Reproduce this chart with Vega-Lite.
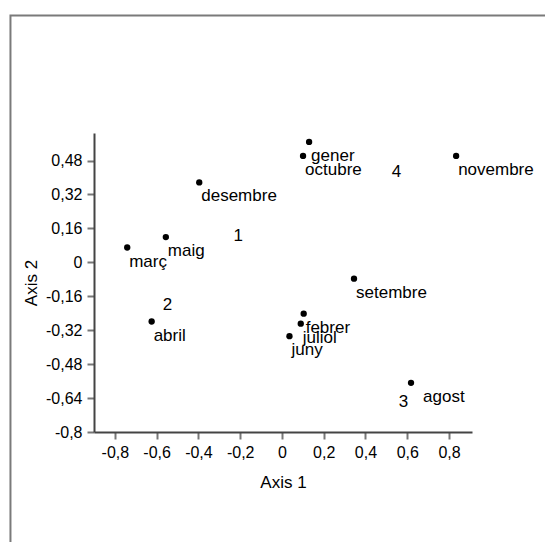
{
  "$schema": "https://vega.github.io/schema/vega-lite/v6.json",
  "description": "Two-dimensional configuration of the months (Axis 1 vs Axis 2) with group numbers.",
  "width": 378,
  "height": 299,
  "autosize": {"type": "none"},
  "padding": {"left": 94, "top": 133, "right": 73, "bottom": 110},
  "background": "white",
  "config": {
    "view": {"stroke": null},
    "font": "Liberation Sans",
    "axis": {
      "grid": false,
      "domainColor": "#444444",
      "domainWidth": 2,
      "tickColor": "#777777",
      "tickWidth": 2,
      "tickSize": 7,
      "labelColor": "black",
      "labelFontSize": 16,
      "labelPadding": 5,
      "labelFlush": false,
      "labelOverlap": false,
      "titleColor": "black",
      "titleFontSize": 17,
      "titleFontWeight": "normal"
    }
  },
  "datasets": {
    "months": [
      {"month": "gener", "x": 0.130, "y": 0.568},
      {"month": "febrer", "x": 0.104, "y": -0.242},
      {"month": "març", "x": -0.741, "y": 0.070},
      {"month": "abril", "x": -0.624, "y": -0.279},
      {"month": "maig", "x": -0.556, "y": 0.119},
      {"month": "juny", "x": 0.036, "y": -0.348},
      {"month": "juliol", "x": 0.090, "y": -0.289},
      {"month": "agost", "x": 0.618, "y": -0.568},
      {"month": "setembre", "x": 0.345, "y": -0.077},
      {"month": "octubre", "x": 0.101, "y": 0.502},
      {"month": "novembre", "x": 0.834, "y": 0.502},
      {"month": "desembre", "x": -0.396, "y": 0.377}
    ],
    "groups": [
      {"group": "1", "x": -0.209, "y": 0.125},
      {"group": "2", "x": -0.548, "y": -0.200},
      {"group": "3", "x": 0.582, "y": -0.658},
      {"group": "4", "x": 0.549, "y": 0.425}
    ]
  },
  "layer": [
    {
      "data": {"values": [{"frame": "border"}]},
      "mark": {"type": "rect", "fill": "transparent", "stroke": "#7a7a7a", "strokeWidth": 2, "clip": false},
      "encoding": {
        "x": {
          "datum": -1.3, "type": "quantitative",
          "scale": {"domain": [-0.9, 0.91], "nice": false, "zero": false},
          "axis": {
            "title": "Axis 1",
            "values": [-0.8, -0.6, -0.4, -0.2, 0, 0.2, 0.4, 0.6, 0.8],
            "tickCount": 12,
            "labelExpr": "replace(toString(datum.value), '.', ',')",
            "labelOverlap": false,
            "titlePadding": 14
          }
        },
        "x2": {"datum": 2.2},
        "y": {
          "datum": 1.164, "type": "quantitative",
          "scale": {"domain": [-0.8, 0.61], "nice": false, "zero": false},
          "axis": {
            "title": "Axis 2",
            "values": [-0.8, -0.64, -0.48, -0.32, -0.16, 0, 0.16, 0.32, 0.48],
            "tickCount": 12,
            "labelExpr": "replace(toString(datum.value), '.', ',')",
            "labelOverlap": false,
            "titlePadding": 5
          }
        },
        "y2": {"datum": -2.2}
      }
    },
    {
      "data": {"name": "months"},
      "mark": {"type": "circle", "size": 40, "color": "black", "opacity": 1},
      "encoding": {
        "x": {"field": "x", "type": "quantitative"},
        "y": {"field": "y", "type": "quantitative"}
      }
    },
    {
      "data": {"name": "months"},
      "transform": [{"filter": "datum.month !== 'agost'"}],
      "mark": {"type": "text", "align": "left", "baseline": "alphabetic", "dx": 2, "dy": 19, "fontSize": 17, "color": "black"},
      "encoding": {
        "x": {"field": "x", "type": "quantitative"},
        "y": {"field": "y", "type": "quantitative"},
        "text": {"field": "month"}
      }
    },
    {
      "data": {"name": "months"},
      "transform": [{"filter": "datum.month === 'agost'"}],
      "mark": {"type": "text", "align": "left", "baseline": "alphabetic", "dx": 12, "dy": 19, "fontSize": 17, "color": "black"},
      "encoding": {
        "x": {"field": "x", "type": "quantitative"},
        "y": {"field": "y", "type": "quantitative"},
        "text": {"field": "month"}
      }
    },
    {
      "data": {"name": "groups"},
      "mark": {"type": "text", "align": "center", "baseline": "middle", "fontSize": 17, "color": "black"},
      "encoding": {
        "x": {"field": "x", "type": "quantitative"},
        "y": {"field": "y", "type": "quantitative"},
        "text": {"field": "group"}
      }
    }
  ]
}
